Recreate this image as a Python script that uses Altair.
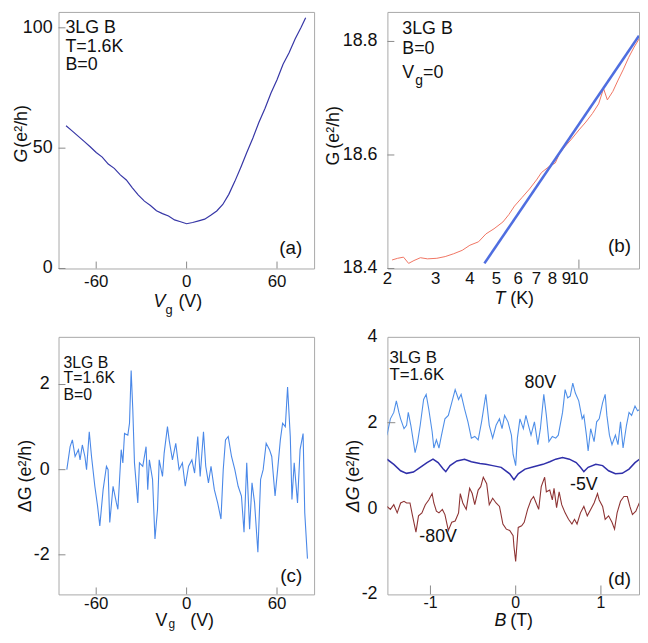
import altair as alt
import pandas as pd

FONT = "Liberation Sans"
INK = "#111111"
TICK = "#8a8a8a"

# ---------------- panel (a): G vs Vg ----------------
a_vg = [-80, -76, -72, -68, -64, -60, -56, -52, -48, -44, -40, -36, -32, -28, -24, -20, -16, -12, -8, -4,
        0, 4, 8, 12, 16, 20, 24, 28, 32, 36, 40, 44, 48, 52, 56, 60, 64, 68, 72, 76, 79]
a_g = [59.3, 57.2, 55.0, 52.8, 50.6, 48.2, 46.3, 43.4, 41.6, 38.9, 36.8, 33.5, 30.5, 28.0, 26.2, 24.0, 22.8, 21.8, 20.2, 19.4,
       18.6, 19.1, 19.8, 20.5, 22.1, 23.9, 26.6, 30.8, 36.2, 42.1, 48.3, 54.2, 60.8, 66.5, 72.9, 78.4, 84.9, 89.6, 95.4, 100.2, 104.2]
a_xticks = [-60, 0, 60]
a_xlabels = ["-60", "0", "60"]
a_yticks = [0, 50, 100]
a_ylabels = ["0", "50", "100"]

# ---------------- panel (b): G vs T (log) ----------------
b_t = [2.08, 2.18, 2.29, 2.39, 2.5, 2.64, 2.8, 3.03, 3.25, 3.49, 3.75, 4.0, 4.3, 4.58, 4.9, 5.28, 5.55, 5.82, 6.2, 6.6,
       7.0, 7.3, 7.8, 8.2, 8.5, 8.9, 9.4, 10.0, 10.6, 11.2, 11.8, 12.3, 12.7, 13.3, 13.9, 14.5, 15.2, 15.9, 16.7]
b_g = [18.415, 18.418, 18.420, 18.409, 18.414, 18.419, 18.417, 18.418, 18.421, 18.426, 18.432, 18.441, 18.447, 18.461,
       18.470, 18.482, 18.495, 18.510, 18.525, 18.540, 18.556, 18.569, 18.580, 18.586, 18.603, 18.615, 18.628, 18.644,
       18.658, 18.673, 18.690, 18.717, 18.697, 18.712, 18.732, 18.750, 18.772, 18.790, 18.807]
b_fit_t = [4.52, 16.57]
b_fit_g = [18.409, 18.810]
b_xticks = [2, 3, 4, 5, 6, 7, 8, 9, 10]
b_xlabels = ["2", "3", "4", "5", "6", "7", "8", "9", "10"]
b_yticks = [18.4, 18.6, 18.8]
b_ylabels = ["18.4", "18.6", "18.8"]

# ---------------- panel (c): dG vs Vg ----------------
c_vg = [-79.5, -77.3, -75.8, -74.0, -71.8, -70.7, -69.2, -67.5, -66.4, -64.6,
        -63.1, -60.9, -59.1, -57.6, -55.4, -53.2, -52.1, -51.0, -48.8, -46.6,
        -45.6, -43.4, -42.3, -41.2, -39.0, -37.9, -36.8, -35.7, -34.6, -32.4,
        -31.3, -29.1, -26.9, -25.8, -24.7, -22.6, -21.0, -19.3, -18.2, -16.0,
        -14.9, -12.7, -11.6, -9.4, -7.2, -5.0, -2.8, -0.9, 1.3, 3.5,
        5.3, 7.4, 9.0, 11.2, 12.7, 14.5, 16.2, 18.4, 20.6, 22.8,
        24.3, 25.8, 27.6, 29.8, 32.0, 34.2, 36.4, 38.1, 39.9, 41.8,
        43.4, 45.1, 47.3, 49.1, 50.8, 52.8, 55.0, 56.5, 58.7, 60.4,
        62.2, 63.7, 65.5, 67.0, 68.8, 69.9, 71.4, 73.6, 75.3, 77.3,
        78.4, 80.2]
c_dg = [0.00, 0.54, 0.70, 0.31, 0.47, 0.23, 0.58, 0.31, 0.00, 0.89,
        0.31, -0.39, -0.85, -1.32, -0.47, 0.08, 0.00, -1.24, -0.39, -0.78,
        -0.93, 0.47, 0.16, 0.85, 0.81, 1.09, 2.33, 1.40, 0.16, -0.78,
        0.16, 0.08, 0.54, -0.47, 0.23, -0.23, -1.63, -0.93, 0.23, -0.16,
        0.39, 1.01, 0.70, 0.23, 0.62, 0.00, 0.16, -0.39, 0.08, 0.23,
        -0.08, 0.78, -0.16, 0.89, 0.08, -0.31, 0.08, -0.47, -0.78, -1.16,
        0.00, 0.70, 0.78, 0.31, 0.00, -0.39, -0.62, -1.47, 0.16, -1.40,
        -0.31, -0.78, -1.94, -0.23, 0.00, 0.62, 0.47, 0.31, -0.62, 0.00,
        0.70, 1.09, 1.01, 1.94, 0.78, -0.70, 0.16, -0.78, 0.47, 0.85,
        -1.01, -2.09]
c_xticks = [-60, 0, 60]
c_xlabels = ["-60", "0", "60"]
c_yticks = [-2, 0, 2]
c_ylabels = ["-2", "0", "2"]

# ---------------- panel (d): dG vs B ----------------
d80_b = [-1.51, -1.47, -1.43, -1.40, -1.37, -1.35, -1.31, -1.28, -1.26, -1.23,
         -1.20, -1.18, -1.15, -1.12, -1.08, -1.05, -1.02, -0.98, -0.96, -0.93,
         -0.90, -0.87, -0.83, -0.79, -0.75, -0.71, -0.67, -0.64, -0.60, -0.56,
         -0.52, -0.48, -0.44, -0.40, -0.35, -0.31, -0.27, -0.23, -0.19, -0.16,
         -0.13, -0.09, -0.05, -0.03, 0.00, 0.02, 0.05, 0.09, 0.12, 0.16,
         0.18, 0.22, 0.26, 0.29, 0.33, 0.36, 0.39, 0.43, 0.47, 0.50,
         0.55, 0.58, 0.61, 0.64, 0.67, 0.70, 0.74, 0.78, 0.80, 0.83,
         0.85, 0.88, 0.92, 0.95, 0.98, 1.02, 1.05, 1.07, 1.10, 1.13,
         1.17, 1.20, 1.23, 1.26, 1.30, 1.33, 1.36, 1.40, 1.43, 1.47]
d80_g = [1.71, 2.09, 2.24, 2.51, 2.24, 2.09, 1.86, 1.94, 2.24, 1.94,
         1.56, 1.30, 1.56, 1.94, 2.54, 2.66, 2.32, 1.79, 1.41, 1.60,
         1.41, 1.71, 2.09, 2.17, 2.47, 2.77, 2.54, 2.66, 2.32, 2.02,
         1.64, 1.68, 1.60, 2.02, 2.66, 1.94, 1.64, 1.94, 2.09, 1.86,
         2.17, 2.02, 1.71, 1.26, 1.00, 1.64, 2.09, 1.86, 2.17, 1.86,
         1.71, 2.02, 1.49, 1.86, 2.66, 2.17, 1.56, 1.68, 1.64, 1.71,
         2.24, 2.77, 2.58, 2.62, 2.92, 2.69, 2.51, 2.09, 2.17, 1.71,
         1.34, 1.86, 1.56, 2.02, 2.09, 2.47, 2.66, 2.17, 1.71, 1.49,
         1.71, 1.49, 2.02, 1.41, 1.94, 2.24, 2.17, 2.39, 2.28, 2.32]
d5_b = [-1.51, -1.43, -1.35, -1.28, -1.20, -1.12, -1.04, -0.97, -0.91, -0.85,
        -0.82, -0.77, -0.69, -0.60, -0.52, -0.42, -0.35, -0.27, -0.17, -0.07,
        -0.02, 0.03, 0.11, 0.20, 0.32, 0.40, 0.47, 0.55, 0.63, 0.71,
        0.76, 0.80, 0.85, 0.94, 1.02, 1.09, 1.17, 1.25, 1.33, 1.40, 1.48]
d5_g = [1.15, 1.03, 0.88, 0.82, 0.85, 0.96, 1.07, 1.15, 1.07, 0.92,
        0.86, 1.00, 1.11, 1.15, 1.09, 1.05, 1.03, 1.00, 0.96, 0.81,
        0.67, 0.81, 0.92, 0.97, 1.03, 1.09, 1.15, 1.19, 1.15, 1.07,
        0.96, 0.86, 0.96, 1.03, 1.00, 0.88, 0.81, 0.82, 0.92, 1.07, 1.19]
dm80_b = [-1.51, -1.47, -1.43, -1.39, -1.35, -1.31, -1.28, -1.24, -1.21, -1.17,
          -1.14, -1.10, -1.06, -1.02, -0.98, -0.96, -0.93, -0.90, -0.86, -0.83,
          -0.79, -0.75, -0.71, -0.67, -0.65, -0.62, -0.58, -0.54, -0.51, -0.48,
          -0.44, -0.41, -0.38, -0.34, -0.31, -0.27, -0.23, -0.19, -0.15, -0.11,
          -0.07, -0.03, -0.02, 0.00, 0.02, 0.03, 0.07, 0.10, 0.14, 0.18,
          0.21, 0.24, 0.27, 0.30, 0.34, 0.36, 0.40, 0.43, 0.45, 0.48,
          0.51, 0.54, 0.58, 0.62, 0.66, 0.69, 0.72, 0.76, 0.80, 0.84,
          0.88, 0.92, 0.96, 0.98, 1.02, 1.05, 1.09, 1.13, 1.16, 1.19,
          1.23, 1.27, 1.31, 1.34, 1.37, 1.41, 1.45, 1.47]
dm80_g = [0.05, -0.02, 0.09, -0.10, 0.13, 0.17, 0.13, 0.13, -0.17, -0.55,
          -0.17, -0.10, 0.09, 0.20, 0.35, 0.13, -0.06, -0.10, -0.02, -0.14,
          -0.51, -0.32, -0.29, -0.10, 0.35, 0.13, -0.02, 0.47, 0.35, 0.09,
          0.43, 0.51, 0.73, 0.58, 0.09, 0.24, 0.13, 0.05, -0.36, -0.48,
          -0.51, -0.63, -0.89, -1.23, -0.70, -0.44, -0.40, -0.32, -0.02, 0.20,
          0.28, 0.13, -0.02, 0.51, 0.73, 0.39, 0.43, 0.20, 0.47, 0.02,
          0.39, 0.09, -0.10, -0.25, -0.36, -0.25, -0.36, -0.10, 0.05, -0.17,
          -0.02, 0.13, 0.35, 0.20, 0.05, -0.25, -0.17, -0.32, -0.48, -0.10,
          0.17, 0.28, 0.28, 0.05, -0.14, -0.06, 0.13, 0.13]
d_curve_labels = ["80V", "-5V", "-80V"]
d_label_b = [0.29, 0.80, -0.91]
d_label_g = [2.81, 0.43, -0.78]
d_xticks = [-1, 0, 1]
d_xlabels = ["-1", "0", "1"]
d_yticks = [-2, 0, 2, 4]
d_ylabels = ["-2", "0", "2", "4"]


def txt(text, x, y, size=18, style="normal", align="left", angle=0, baseline="alphabetic"):
    kw = dict(font=FONT, fontSize=size, fontStyle=style, align=align, baseline=baseline, color=INK)
    if angle:
        kw["angle"] = angle
    return alt.Chart(pd.DataFrame({"t": [text]})).mark_text(**kw).encode(
        text="t:N", x=alt.value(x), y=alt.value(y))


def xticks(values, scale, h, length=7):
    return alt.Chart(pd.DataFrame({"v": values})).mark_rule(color=TICK, strokeWidth=1).encode(
        x=alt.X("v:Q", scale=scale, axis=None), y=alt.value(h), y2=alt.value(h - length))


def yticks(values, scale, length=7):
    return alt.Chart(pd.DataFrame({"v": values})).mark_rule(color=TICK, strokeWidth=1).encode(
        y=alt.Y("v:Q", scale=scale, axis=None), x=alt.value(0), x2=alt.value(length))


def xlabels(values, labels, scale, y, size=17):
    return alt.Chart(pd.DataFrame({"v": values, "lab": labels})).mark_text(
        font=FONT, fontSize=size, color=INK, align="center", baseline="top").encode(
        x=alt.X("v:Q", scale=scale, axis=None), y=alt.value(y), text="lab:N")


def ylabels(values, labels, scale, x, size=18):
    return alt.Chart(pd.DataFrame({"v": values, "lab": labels})).mark_text(
        font=FONT, fontSize=size, color=INK, align="right", baseline="middle").encode(
        y=alt.Y("v:Q", scale=scale, axis=None), x=alt.value(x), text="lab:N")


# ---------------- build (a) ----------------
WA, HA = 258, 259
sxa = alt.Scale(domain=[-85, 84.6], nice=False, zero=False)
sya = alt.Scale(domain=[0, 106.6], nice=False, zero=False)
line_a = alt.Chart(pd.DataFrame({"vg": a_vg, "g": a_g})).mark_line(color="#3636a6", strokeWidth=1.2).encode(
    x=alt.X("vg:Q", scale=sxa, axis=None), y=alt.Y("g:Q", scale=sya, axis=None))
panel_a = alt.layer(
    line_a,
    xticks(a_xticks, sxa, HA), yticks(a_yticks, sya),
    xlabels(a_xticks, a_xlabels, sxa, HA + 6), ylabels(a_yticks, a_ylabels, sya, -6),
    txt("3LG B", 7, 21), txt("T=1.6K", 7, 40), txt("B=0", 7, 59),
    txt("(a)", 246, 244, size=19, align="right"),
    txt("V", 96, 298, size=18, style="italic"), txt("g", 108, 305, size=13), txt("(V)", 121, 298, size=18),
    txt("G", -37, 152, size=18, style="italic", angle=270, baseline="middle"),
    txt("(e\u00b2/h)", -37, 137, size=18, angle=270, baseline="middle"),
).properties(width=WA, height=HA)

# ---------------- build (b) ----------------
WB, HB = 254, 259
sxb = alt.Scale(type="log", domain=[2, 16.57], nice=False)
syb = alt.Scale(domain=[18.4, 18.852], nice=False, zero=False)
line_b = alt.Chart(pd.DataFrame({"t": b_t, "g": b_g})).mark_line(
    color="#f07462", strokeWidth=1, clip=True).encode(
    x=alt.X("t:Q", scale=sxb, axis=None), y=alt.Y("g:Q", scale=syb, axis=None))
fit_b = alt.Chart(pd.DataFrame({"t": b_fit_t, "g": b_fit_g})).mark_line(
    color="#4f6ee0", strokeWidth=2.6, clip=True).encode(
    x=alt.X("t:Q", scale=sxb, axis=None), y=alt.Y("g:Q", scale=syb, axis=None))
panel_b = alt.layer(
    line_b, fit_b,
    xticks([10], sxb, HB, 9), yticks(b_yticks, syb),
    xlabels(b_xticks, b_xlabels, sxb, HB + 3), ylabels(b_yticks, b_ylabels, syb, -10),
    txt("3LG B", 15, 22), txt("B=0", 15, 42),
    txt("V", 15, 67), txt("g", 28, 74, size=14), txt("=0", 36, 67),
    txt("(b)", 246, 242, size=19, align="right"),
    txt("T", 108, 295, size=18, style="italic"), txt("(K)", 124, 295, size=18),
    txt("G", -54, 155, size=18, angle=270, baseline="middle"),
    txt("(e\u00b2/h)", -54, 138, size=18, angle=270, baseline="middle"),
).properties(width=WB, height=HB)

# ---------------- build (c) ----------------
WC, HC = 258, 260
sxc = alt.Scale(domain=[-85, 84.6], nice=False, zero=False)
syc = alt.Scale(domain=[-2.93, 3.12], nice=False, zero=False)
line_c = alt.Chart(pd.DataFrame({"vg": c_vg, "dg": c_dg})).mark_line(color="#4a88e8", strokeWidth=1.1).encode(
    x=alt.X("vg:Q", scale=sxc, axis=None), y=alt.Y("dg:Q", scale=syc, axis=None))
panel_c = alt.layer(
    line_c,
    xticks(c_xticks, sxc, HC), yticks(c_yticks, syc),
    xlabels(c_xticks, c_xlabels, sxc, HC + 2), ylabels(c_yticks, c_ylabels, syc, -9),
    txt("3LG B", 5, 31, size=16), txt("T=1.6K", 5, 47, size=16), txt("B=0", 5, 64, size=16),
    txt("(c)", 246, 247, size=19, align="right"),
    txt("V", 98, 292, size=18), txt("g", 111, 294, size=12), txt("(V)", 133, 292, size=18),
    txt("\u0394G", -33, 177, size=18, angle=270, baseline="middle"),
    txt("(e\u00b2/h)", -33, 147, size=18, angle=270, baseline="middle"),
).properties(width=WC, height=HC)

# ---------------- build (d) ----------------
WD, HD = 254, 260
sxd = alt.Scale(domain=[-1.505, 1.447], nice=False, zero=False)
syd = alt.Scale(domain=[-2, 4], nice=False, zero=False)
line_d80 = alt.Chart(pd.DataFrame({"b": d80_b, "dg": d80_g})).mark_line(
    color="#4f8fe8", strokeWidth=1.1, clip=True).encode(
    x=alt.X("b:Q", scale=sxd, axis=None), y=alt.Y("dg:Q", scale=syd, axis=None))
line_d5 = alt.Chart(pd.DataFrame({"b": d5_b, "dg": d5_g})).mark_line(
    color="#3030aa", strokeWidth=1.5, clip=True).encode(
    x=alt.X("b:Q", scale=sxd, axis=None), y=alt.Y("dg:Q", scale=syd, axis=None))
line_dm80 = alt.Chart(pd.DataFrame({"b": dm80_b, "dg": dm80_g})).mark_line(
    color="#8e3434", strokeWidth=1.1, clip=True).encode(
    x=alt.X("b:Q", scale=sxd, axis=None), y=alt.Y("dg:Q", scale=syd, axis=None))
curve_labels = alt.Chart(pd.DataFrame({"lab": d_curve_labels, "b": d_label_b, "dg": d_label_g})).mark_text(
    font=FONT, fontSize=18, color=INK, align="center", baseline="alphabetic").encode(
    x=alt.X("b:Q", scale=sxd, axis=None), y=alt.Y("dg:Q", scale=syd, axis=None), text="lab:N")
panel_d = alt.layer(
    line_d80, line_d5, line_dm80, curve_labels,
    xticks(d_xticks, sxd, HD, 9), yticks([2], syd, 8),
    xlabels(d_xticks, d_xlabels, sxd, HD + 1, size=16), ylabels(d_yticks, d_ylabels, syd, -10),
    txt("3LG B", 2, 26, size=17), txt("T=1.6K", 2, 44, size=17),
    txt("(d)", 246, 251, size=19, align="right"),
    txt("B", 108, 292, size=18, style="italic"), txt("(T)", 124, 292, size=18),
    txt("\u0394G", -34, 177, size=18, style="italic", angle=270, baseline="middle"),
    txt("(e\u00b2/h)", -34, 147, size=18, angle=270, baseline="middle"),
).properties(width=WD, height=HD)

chart = alt.concat(
    panel_a, panel_b, panel_c, panel_d,
    columns=2, spacing={"row": 69, "column": 74}, bounds="flush", align="each",
).properties(
    padding={"left": 4, "top": 0, "right": 0, "bottom": 0},
    background="white",
).configure_view(stroke="#a8a8a8", strokeWidth=1)

chart.save("out.html", embed_options={"renderer": "svg", "actions": False})
